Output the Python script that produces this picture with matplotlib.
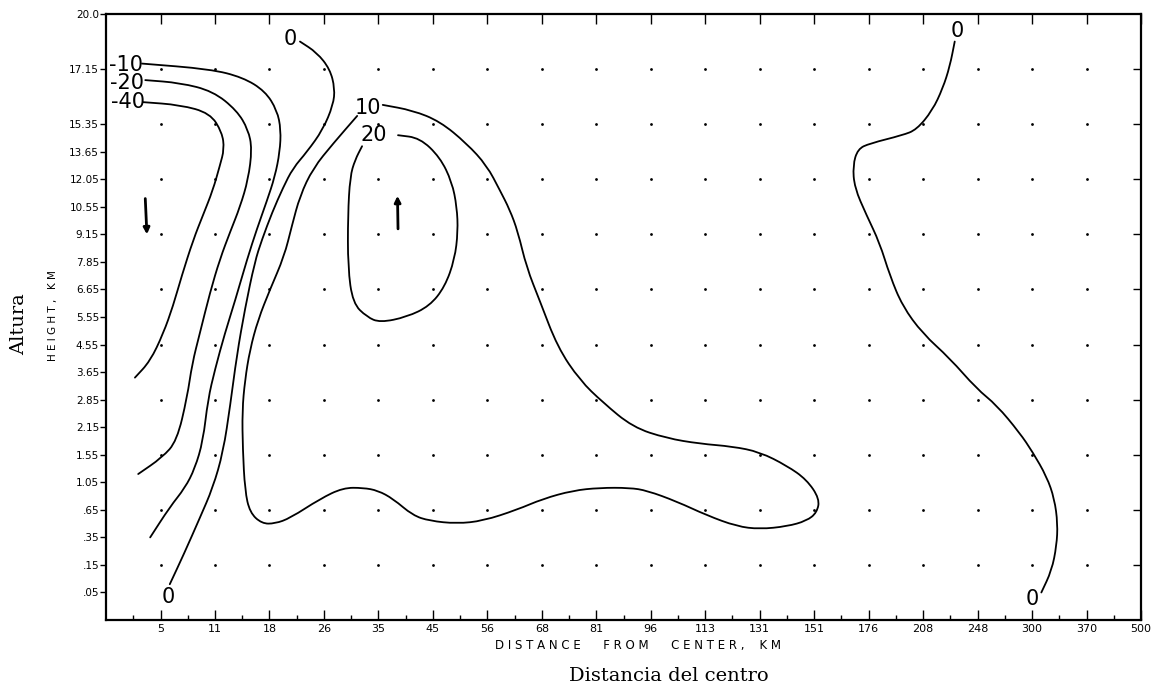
#! /usr/bin/env python3
""" Hurricane cross section: radial wind component isolines (height vs. distance from centre). """

import numpy as np
import matplotlib.pyplot as plt
from matplotlib.path import Path
from matplotlib.patches import PathPatch

# axis categories (equally spaced on the chart)
dist_labels = ['5', '11', '18', '26', '35', '45', '56', '68', '81', '96', '113',
               '131', '151', '176', '208', '248', '300', '370', '500']
height_labels = ['.05', '.15', '.35', '.65', '1.05', '1.55', '2.15', '2.85', '3.65',
                 '4.55', '5.55', '6.65', '7.85', '9.15', '10.55', '12.05', '13.65',
                 '15.35', '17.15', '20.0']
# grid level of each height label (two levels above 15.35 have no label)
height_levels = [1, 2, 3, 4, 5, 6, 7, 8, 9, 10, 11, 12, 13, 14, 15, 16, 17, 18, 20, 22]

# isolines in grid units
iso_m40_x = [0.68, 1.36, 1.91, 2.13, 2.17, 2.09, 1.96, 1.78, 1.60, 1.39, 1.23, 1.05, 0.81, 0.53]
iso_m40_y = [18.8, 18.7, 18.4, 17.7, 17.1, 16.5, 15.6, 14.7, 13.8, 12.5, 11.4, 10.4, 9.4, 8.8]

iso_m20_x = [0.72, 1.36, 1.96, 2.40, 2.61, 2.68, 2.61, 2.46, 2.28, 2.09, 1.91, 1.72, 1.58,
             1.49, 1.30, 1.03, 0.59]
iso_m20_y = [19.6, 19.5, 19.2, 18.5, 17.8, 17.1, 16.0, 15.0, 14.1, 13.1, 11.9, 10.4, 9.3,
             8.1, 6.5, 5.9, 5.3]

iso_m10_x = [0.66, 1.91, 2.51, 2.92, 3.14, 3.21, 3.19, 3.10, 2.95, 2.77, 2.59, 2.37, 2.18,
             2.00, 1.87, 1.78, 1.63, 1.45, 1.17, 0.81]
iso_m10_y = [20.2, 20.0, 19.7, 19.2, 18.5, 17.8, 17.0, 16.1, 15.2, 14.2, 13.1, 11.6, 10.4,
             9.1, 8.0, 6.5, 5.5, 4.8, 4.1, 3.0]

iso_0a_x = [3.56, 3.87, 4.11, 4.20, 4.17, 3.98, 3.69, 3.43, 3.25, 3.05, 2.86, 2.73, 2.55,
            2.40, 2.28, 2.15, 1.96, 1.72, 1.43, 1.17]
iso_0a_y = [21.0, 20.6, 20.0, 19.3, 18.7, 17.8, 17.0, 16.4, 15.7, 14.8, 13.8, 13.0, 11.3,
            9.6, 7.8, 6.1, 4.8, 3.7, 2.4, 1.3]

iso_10_x = [4.61, 4.17, 3.80, 3.56, 3.41, 3.27, 3.01, 2.79, 2.64, 2.55, 2.50, 2.51, 2.55,
            2.64, 2.86, 3.10, 3.38, 3.93, 4.35, 4.72, 4.99, 5.27, 5.63, 5.94, 6.44, 6.92,
            7.54, 8.02, 8.57, 9.06, 9.61, 9.93, 10.48, 11.03, 11.58, 12.00, 12.50, 12.86,
            13.05, 13.10, 12.86, 12.50, 12.00, 11.50, 10.90, 10.29, 9.67, 9.12, 8.70, 8.29,
            7.96, 7.72, 7.56, 7.41, 7.23, 6.99, 6.62, 6.13, 5.63, 5.08]
iso_10_y = [18.3, 17.3, 16.4, 15.4, 14.3, 13.2, 12.0, 10.9, 9.8, 8.7, 7.6, 6.2, 4.7,
            3.9, 3.5, 3.5, 3.7, 4.4, 4.8, 4.8, 4.7, 4.4, 3.8, 3.6, 3.5, 3.6,
            4.0, 4.4, 4.7, 4.8, 4.8, 4.7, 4.3, 3.8, 3.4, 3.3, 3.4, 3.6,
            3.9, 4.4, 5.1, 5.6, 6.1, 6.3, 6.4, 6.6, 7.0, 7.9, 8.7, 9.9,
            11.6, 12.8, 14.1, 14.9, 15.6, 16.5, 17.3, 18.1, 18.5, 18.7]

iso_20_x = [5.36, 5.76, 6.13, 6.35, 6.44, 6.46, 6.40, 6.22, 5.94, 5.52, 5.03, 4.79, 4.53,
            4.44, 4.44, 4.48, 4.57, 4.70]
iso_20_y = [17.6, 17.5, 16.8, 15.9, 15.0, 14.1, 13.1, 12.1, 11.4, 11.0, 10.8, 11.0, 11.5,
            12.8, 14.7, 16.1, 16.7, 17.2]

iso_0b_x = [15.58, 15.49, 15.36, 15.17, 14.88, 14.62, 14.02, 13.80, 13.71, 13.74, 13.96,
            14.20, 14.39, 14.62, 14.99, 15.49, 15.98, 16.35, 16.77, 17.01, 17.27, 17.41,
            17.47, 17.45, 17.36, 17.17]
iso_0b_y = [21.0, 20.1, 19.3, 18.5, 17.8, 17.6, 17.3, 17.1, 16.5, 15.7, 14.7,
            13.7, 12.5, 11.4, 10.4, 9.5, 8.4, 7.8, 6.8, 6.1, 5.2, 4.4,
            3.5, 2.7, 1.8, 1.0]

# isoline labels: text, x, y
iso_label_text = ['-10', '-20', '-40', '0', '0', '10', '20', '0', '0']
iso_label_x = [0.36, 0.38, 0.40, 3.38, 1.14, 4.80, 4.92, 15.62, 17.0]
iso_label_y = [20.15, 19.5, 18.8, 21.1, 0.85, 18.6, 17.6, 21.4, 0.75]

# wind arrows: start and end
arrow_x0 = [0.72, 5.36]
arrow_y0 = [15.3, 14.2]
arrow_x1 = [0.75, 5.35]
arrow_y1 = [14.0, 15.4]


def smooth_path(xs, ys):
    """ Quadratic Bezier path through the midpoints, with the traced points as controls. """
    pts = np.column_stack([xs, ys])
    mids = (pts[:-1] + pts[1:]) / 2
    verts = [pts[0], mids[0]]
    codes = [Path.MOVETO, Path.LINETO]
    for i in range(1, len(pts) - 1):
        verts += [pts[i], mids[i]]
        codes += [Path.CURVE3, Path.CURVE3]
    verts.append(pts[-1])
    codes.append(Path.LINETO)
    return Path(verts, codes)


if __name__ == "__main__":
    fig = plt.figure(figsize=(11.68, 6.93), dpi=100)
    ax = fig.add_axes([0.0908, 0.1053, 0.8861, 0.8745])
    n_x = len(dist_labels)
    ax.set_xlim(0, n_x)
    ax.set_ylim(0, height_levels[-1])

    # dot grid at every distance and every other height
    gx, gy = np.meshgrid(np.arange(1, n_x), height_levels[1:19:2] + [20])
    ax.scatter(gx.ravel(), gy.ravel(), s=4, c='k', linewidths=0, zorder=1)

    lines = [(iso_m40_x, iso_m40_y), (iso_m20_x, iso_m20_y), (iso_m10_x, iso_m10_y),
             (iso_0a_x, iso_0a_y), (iso_10_x, iso_10_y), (iso_20_x, iso_20_y),
             (iso_0b_x, iso_0b_y)]
    for xs, ys in lines:
        ax.add_patch(PathPatch(smooth_path(xs, ys), facecolor='none', edgecolor='k',
                               lw=1.3, capstyle='round', joinstyle='round', zorder=2))

    for t, x, y in zip(iso_label_text, iso_label_x, iso_label_y):
        ax.text(x, y, t, fontsize=15, ha='center', va='center', color='k', clip_on=False)

    for x0, y0, x1, y1 in zip(arrow_x0, arrow_y0, arrow_x1, arrow_y1):
        ax.annotate('', xy=(x1, y1), xytext=(x0, y0),
                    arrowprops=dict(arrowstyle='-|>', lw=2.0, color='k', mutation_scale=9,
                                    shrinkA=0, shrinkB=0))

    # x axis: labelled major ticks, minor ticks in between
    ax.set_xticks(np.arange(1, n_x + 1))
    ax.set_xticklabels(dist_labels, fontsize=8)
    ax.set_xticks(np.arange(0.5, n_x, 1.0), minor=True)
    ax.tick_params(axis='x', which='major', direction='in', length=7, width=1.0,
                   top=True, pad=3)
    ax.tick_params(axis='x', which='minor', direction='in', length=3.5, width=1.0,
                   top=False)

    # y axis: labels on left, inward ticks on right at dot rows
    ax.set_yticks(height_levels)
    ax.set_yticklabels(height_labels, fontsize=7.5)
    ax.tick_params(axis='y', direction='out', length=4, width=1.0, pad=1)
    ax2 = ax.twinx()
    ax2.set_ylim(ax.get_ylim())
    ax2.set_yticks(height_levels[1:19:2] + [20])
    ax2.tick_params(axis='y', direction='in', length=6, width=1.0, labelright=False)
    for s in ax2.spines.values():
        s.set_visible(False)

    for s in ax.spines.values():
        s.set_linewidth(1.6)

    fig.text(0.546, 0.068,
             'D I S T A N C E      F R O M      C E N T E R ,    K M',
             fontsize=8.5, ha='center', va='center')
    fig.text(0.573, 0.024, 'Distancia del centro', fontsize=14, family='DejaVu Serif',
             ha='center', va='center')
    fig.text(0.045, 0.545, 'H E I G H T ,   K M', fontsize=7.5, rotation=90,
             ha='center', va='center')
    fig.text(0.016, 0.532, 'Altura', fontsize=14, family='DejaVu Serif', rotation=90,
             ha='center', va='center')

    fig.savefig('out.png', dpi=100, facecolor='white')
